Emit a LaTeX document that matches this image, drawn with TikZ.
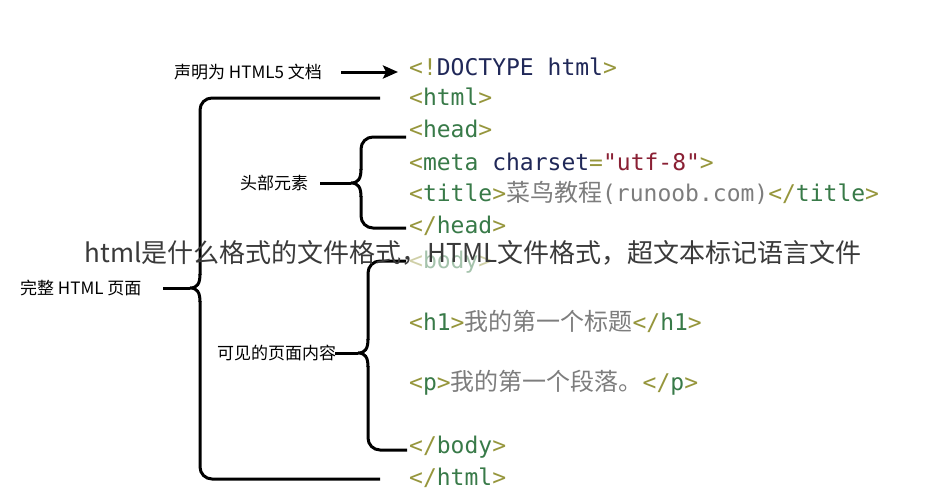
\documentclass[tikz,border=0pt]{standalone}
\usepackage{fontspec}
\setmainfont{Noto Sans CJK SC}
\newfontfamily\cjkf{Noto Sans CJK SC}
\newfontfamily\monof{DejaVu Sans Mono}
\usetikzlibrary{arrows.meta}
\definecolor{angc}{RGB}{150,150,60}
\definecolor{tagc}{RGB}{56,122,72}
\definecolor{navyc}{RGB}{32,40,88}
\definecolor{marc}{RGB}{138,32,52}
\definecolor{grayc}{RGB}{125,125,125}
\definecolor{wmc}{RGB}{58,58,58}
\newcommand\An[1]{\textcolor{angc}{#1}}
\newcommand\Tg[1]{\textcolor{tagc}{#1}}
\newcommand\Nv[1]{\textcolor{navyc}{#1}}
\newcommand\Mr[1]{\textcolor{marc}{#1}}
\newcommand\Gt[1]{\textcolor{grayc}{#1}}
\newcommand\Ct[1]{\textcolor{grayc}{{\cjkf\fontsize{24}{24}\selectfont #1}}}
\begin{document}
\begin{tikzpicture}[x=1pt,y=-1pt,
  code/.style={anchor=base west, inner sep=0pt, font=\monof\fontsize{23}{23}\selectfont},
  lbl/.style={anchor=west, inner sep=0pt, font=\fontsize{17}{17}\selectfont, text=black},
  brk/.style={line width=3pt, rounded corners=12pt},
  tipl/.style={line width=3pt},
  arr/.style={line width=3pt, -{Stealth[length=15pt,width=13pt,inset=3pt]}}]
\fill[white] (0,0) rectangle (947,490);
\useasboundingbox (0,0) rectangle (947,490);

% code lines
\node[code] (doctype) at (409,75) {\An{<!}\Nv{DOCTYPE html}\An{>}};
\node[code] (html) at (409,105) {\An{<}\Tg{html}\An{>}};
\node[code] (head) at (409,137) {\An{<}\Tg{head}\An{>}};
\node[code] (meta) at (409,170) {\An{<}\Tg{meta} \Nv{charset}\An{=}\Mr{"utf-8"}\An{>}};
\node[code] (title) at (409,201) {\An{<}\Tg{title}\An{>}\Ct{菜鸟教程}\Gt{(runoob.com)}\An{</}\Tg{title}\An{>}};
\node[code] (headend) at (409,233) {\An{</}\Tg{head}\An{>}};
\node[code, opacity=0.45] (body) at (409,268) {\An{<}\Tg{body}\An{>}};
\node[code] (h1) at (409,330) {\An{<}\Tg{h1}\An{>}\Ct{我的第一个标题}\An{</}\Tg{h1}\An{>}};
\node[code] (p) at (409,390) {\An{<}\Tg{p}\An{>}\Ct{我的第一个段落。}\An{</}\Tg{p}\An{>}};
\node[code] (bodyend) at (409,453) {\An{</}\Tg{body}\An{>}};
\node[code] (htmlend) at (409,485) {\An{</}\Tg{html}\An{>}};

% labels
\node[lbl] (decl) at (174,72) {声明为 HTML5 文档};
\node[lbl] (headlbl) at (240,183) {头部元素};
\node[lbl] (full) at (20,288) {完整 HTML 页面};
\node[lbl] (vis) at (217,353) {可见的页面内容};

% arrow
\coordinate (arrS) at (341,72);
\coordinate (arrE) at (398,72);
\draw[arr] (arrS) -- (arrE);

% full page brace
\coordinate (fT) at (380,98);
\coordinate (fB) at (380,479);
\coordinate (fTip) at (190,288);
\coordinate (fS) at (163,288);
\draw[brk] (fT) -- (200,98) -- (200,275);
\draw[tipl] (200,274) .. controls (200,284) and (197,288) .. (fTip)
  .. controls (197,288) and (200,292) .. (200,302);
\draw[brk] (200,301) -- (200,479) -- (fB);
\draw[tipl] (fS) -- (fTip);

% head brace
\coordinate (hT) at (406,137);
\coordinate (hB) at (406,228);
\coordinate (hTip) at (351,183);
\coordinate (hS) at (320,183);
\draw[brk] (hT) -- (361,137) -- (361,170);
\draw[tipl] (361,169) .. controls (361,179) and (358,183) .. (hTip)
  .. controls (358,183) and (361,187) .. (361,197);
\draw[brk] (361,196) -- (361,228) -- (hB);
\draw[tipl] (hS) -- (hTip);

% body brace
\coordinate (bT) at (406,261);
\coordinate (bB) at (407,450);
\coordinate (bTip) at (358,353);
\coordinate (bS) at (335,353);
\draw[brk] (bT) -- (368,261) -- (368,340);
\draw[tipl] (368,339) .. controls (368,349) and (365,353) .. (bTip)
  .. controls (365,353) and (368,357) .. (368,367);
\draw[brk] (368,366) -- (368,450) -- (bB);
\draw[tipl] (bS) -- (bTip);

% watermark
\node[inner sep=0pt, text=wmc, font=\fontsize{26}{26}\selectfont] (wm) at (473,253) {html是什么格式的文件格式，HTML文件格式，超文本标记语言文件};
\end{tikzpicture}
\end{document}
